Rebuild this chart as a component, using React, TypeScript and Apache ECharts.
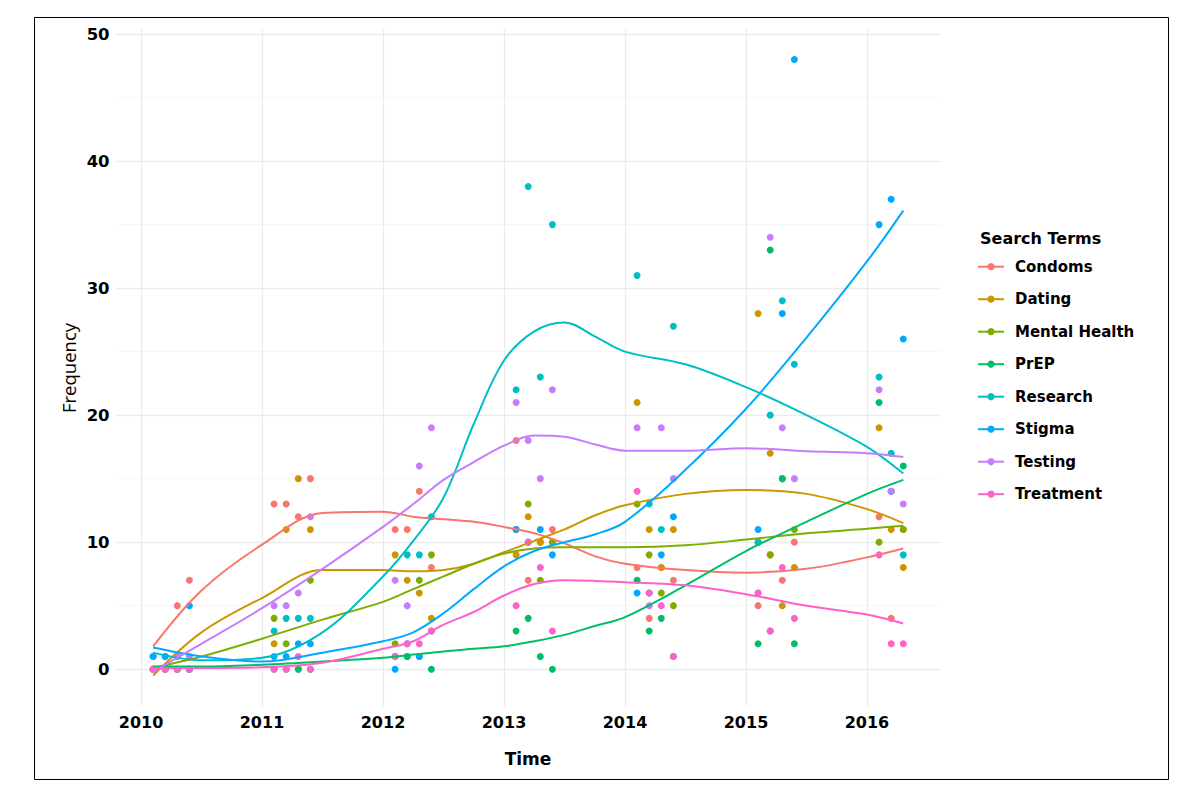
import React, { useEffect, useRef } from "react";
import * as echarts from "echarts";

const SERIES_NAMES = ["Condoms", "Dating", "Mental Health", "PrEP", "Research", "Stigma", "Testing", "Treatment"];
const COLORS = ["#F8766D", "#CD9600", "#7CAE00", "#00BE67", "#00BFC4", "#00A9FF", "#C77CFF", "#FF61CC"];

// observation times (decimal years)
const TIMES = [
  2010.1, 2010.2, 2010.3, 2010.4,
  2011.1, 2011.2, 2011.3, 2011.4,
  2012.1, 2012.2, 2012.3, 2012.4,
  2013.1, 2013.2, 2013.3, 2013.4,
  2014.1, 2014.2, 2014.3, 2014.4,
  2015.1, 2015.2, 2015.3, 2015.4,
  2016.1, 2016.2, 2016.3,
];

const CONDOMS = [0, 0, 5, 7, 13, 13, 12, 15, 11, 11, 14, 8, 18, 7, 10, 11, 8, 4, 8, 7, 5, 9, 7, 10, 12, 4, 11];
const DATING = [0, 0, 0, 0, 2, 11, 15, 11, 9, 7, 6, 4, 9, 12, 10, 10, 21, 11, 8, 11, 28, 17, 5, 8, 19, 11, 8];
const MENTAL_HEALTH = [0, 0, 0, 0, 4, 2, 0, 7, 2, 1, 7, 9, 11, 13, 7, 10, 13, 9, 6, 5, 10, 9, 15, 11, 10, 14, 11];
const PREP = [0, 0, 0, 0, 0, 0, 0, 0, 1, 1, 1, 0, 3, 4, 1, 0, 7, 3, 4, 1, 2, 33, 15, 2, 21, 14, 16];
const RESEARCH = [1, 1, 0, 0, 3, 4, 4, 4, 1, 9, 9, 12, 22, 38, 23, 35, 31, 13, 11, 27, 10, 20, 29, 24, 23, 17, 9];
const STIGMA = [1, 1, 1, 5, 1, 1, 2, 2, 0, 2, 1, 3, 11, 10, 11, 9, 6, 6, 9, 12, 11, 3, 28, 48, 35, 37, 26];
const TESTING = [0, 0, 1, 1, 5, 5, 6, 12, 7, 5, 16, 19, 21, 18, 15, 22, 19, 5, 19, 15, 6, 34, 19, 15, 22, 14, 13];
const TREATMENT = [0, 0, 0, 0, 0, 0, 1, 0, 1, 2, 2, 3, 5, 10, 8, 3, 14, 6, 5, 1, 6, 3, 8, 4, 9, 2, 2];

// smoothed (loess) trend values
const SMOOTH_X = [2010.1, 2010.5, 2011, 2011.5, 2012, 2012.25, 2012.5, 2012.75, 2013, 2013.25, 2013.5, 2013.75, 2014, 2014.5, 2015, 2015.5, 2016, 2016.3];
const CONDOMS_FIT = [1.8, 6.2, 9.8, 12.3, 12.4, 12.0, 11.8, 11.6, 11.2, 10.7, 9.9, 8.9, 8.3, 7.8, 7.6, 7.9, 8.8, 9.5];
const DATING_FIT = [-0.5, 2.9, 5.6, 7.8, 7.8, 7.7, 7.8, 8.3, 9.2, 10.1, 11.0, 12.1, 12.9, 13.8, 14.1, 13.8, 12.6, 11.5];
const MENTAL_HEALTH_FIT = [0.1, 1.0, 2.4, 3.9, 5.3, 6.3, 7.3, 8.3, 9.1, 9.5, 9.6, 9.6, 9.6, 9.75, 10.2, 10.7, 11.05, 11.3];
const PREP_FIT = [0.2, 0.2, 0.35, 0.6, 0.9, 1.15, 1.4, 1.6, 1.8, 2.2, 2.7, 3.4, 4.1, 6.6, 9.3, 11.6, 13.8, 14.9];
const RESEARCH_FIT = [1.3, 0.7, 0.9, 2.9, 7.3, 10.1, 13.5, 19.3, 24.3, 26.6, 27.3, 26.2, 25.0, 24.0, 22.2, 20.0, 17.5, 15.4];
const STIGMA_FIT = [1.7, 1.0, 0.6, 1.3, 2.2, 2.9, 4.4, 6.3, 8.1, 9.3, 10.0, 10.6, 11.6, 15.7, 20.5, 26.1, 32.1, 36.1];
const TESTING_FIT = [-0.2, 2.0, 4.8, 7.9, 11.2, 13.0, 14.9, 16.3, 17.6, 18.4, 18.3, 17.7, 17.2, 17.2, 17.4, 17.15, 17.0, 16.7];
const TREATMENT_FIT = [0.1, 0.1, 0.15, 0.5, 1.6, 2.2, 3.5, 4.5, 5.8, 6.7, 7.0, 6.95, 6.85, 6.6, 5.9, 5.0, 4.3, 3.6];

const Y_TICKS = [0, 10, 20, 30, 40, 50];
const Y_MINOR = [5, 15, 25, 35, 45];
const X_TICKS = [2010, 2011, 2012, 2013, 2014, 2015, 2016];

const POINTS = [CONDOMS, DATING, MENTAL_HEALTH, PREP, RESEARCH, STIGMA, TESTING, TREATMENT];
const FITS = [CONDOMS_FIT, DATING_FIT, MENTAL_HEALTH_FIT, PREP_FIT, RESEARCH_FIT, STIGMA_FIT, TESTING_FIT, TREATMENT_FIT];

const FONT = "DejaVu Sans";

export default function App() {
  const ref = useRef<HTMLDivElement>(null);
  useEffect(() => {
    if (!ref.current) return;
    const chart = echarts.init(ref.current, null, { renderer: "svg" });
    const scatterSeries = SERIES_NAMES.map((name, i) => ({
      name,
      type: "scatter",
      data: TIMES.map((t, j) => [t, POINTS[i][j]]),
      symbol: "circle",
      symbolSize: 7,
      itemStyle: { color: COLORS[i], opacity: 1 },
      z: 3,
      silent: true,
    }));
    const lineSeries = SERIES_NAMES.map((name, i) => ({
      name,
      type: "line",
      data: SMOOTH_X.map((x, j) => [x, FITS[i][j]]),
      smooth: 0.35,
      showSymbol: false,
      symbol: "circle",
      symbolSize: 7,
      lineStyle: { color: COLORS[i], width: 2 },
      itemStyle: { color: COLORS[i] },
      z: 4,
      silent: true,
    }));
    chart.setOption({
      animation: false,
      backgroundColor: "#ffffff",
      grid: { left: 115.6, right: 1200 - 940.8, top: 29, bottom: 790 - 706, containLabel: false },
      xAxis: {
        type: "value",
        min: 2009.79,
        max: 2016.61,
        axisLine: { show: false },
        axisTick: { show: false, customValues: X_TICKS },
        axisLabel: {
          customValues: X_TICKS,
          formatter: (v: number) => String(Math.round(v)),
          fontSize: 16,
          fontWeight: "bold",
          color: "#000",
          fontFamily: FONT,
          margin: 8,
        },
        splitLine: { show: true, lineStyle: { color: "#EBEBEB", width: 1.3 } },
      },
      yAxis: [
        {
          type: "value",
          min: -2.9,
          max: 50.4,
          axisLine: { show: false },
          axisTick: { show: false, customValues: Y_TICKS },
          axisLabel: {
            customValues: Y_TICKS,
            fontSize: 16.5,
            fontWeight: "bold",
            color: "#000",
            fontFamily: FONT,
            margin: 6,
          },
          splitLine: { show: true, lineStyle: { color: "#EBEBEB", width: 1.3 } },
        },
        {
          type: "value",
          min: -2.9,
          max: 50.4,
          position: "left",
          axisLine: { show: false },
          axisTick: { show: false, customValues: Y_MINOR },
          axisLabel: { show: false, customValues: Y_MINOR },
          splitLine: { show: true, lineStyle: { color: "#F4F4F4", width: 0.8 } },
        },
      ],
      legend: {
        orient: "vertical",
        left: 972,
        top: 254.2,
        itemWidth: 26,
        itemHeight: 9,
        itemGap: 17.5,
        data: SERIES_NAMES,
        selectedMode: false,
        textStyle: { fontSize: 15, fontWeight: "bold", color: "#000", fontFamily: FONT, padding: [0, 0, 0, 6] },
      },
      graphic: [
        {
          type: "rect",
          shape: { x: 34.5, y: 17.5, width: 1134, height: 762 },
          style: { fill: "none", stroke: "#000", lineWidth: 1 },
          silent: true,
        },
        {
          type: "text",
          x: 980,
          y: 238,
          style: { text: "Search Terms", fontSize: 16, fontWeight: "bold", fill: "#000", fontFamily: FONT, verticalAlign: "middle" },
        },
        {
          type: "text",
          x: 68,
          y: 368,
          rotation: Math.PI / 2,
          style: { text: "Frequency", fontSize: 18.5, fill: "#000", fontFamily: "Open Sans", align: "center", verticalAlign: "middle" },
        },
        {
          type: "text",
          x: 528,
          y: 759,
          style: { text: "Time", fontSize: 17, fontWeight: "bold", fill: "#000", fontFamily: FONT, align: "center", verticalAlign: "middle" },
        },
      ],
      series: [...lineSeries, ...scatterSeries],
    });
    return () => chart.dispose();
  }, []);
  return <div ref={ref} style={{ position: "absolute", left: 0, top: 0, width: 1200, height: 790 }} />;
}
